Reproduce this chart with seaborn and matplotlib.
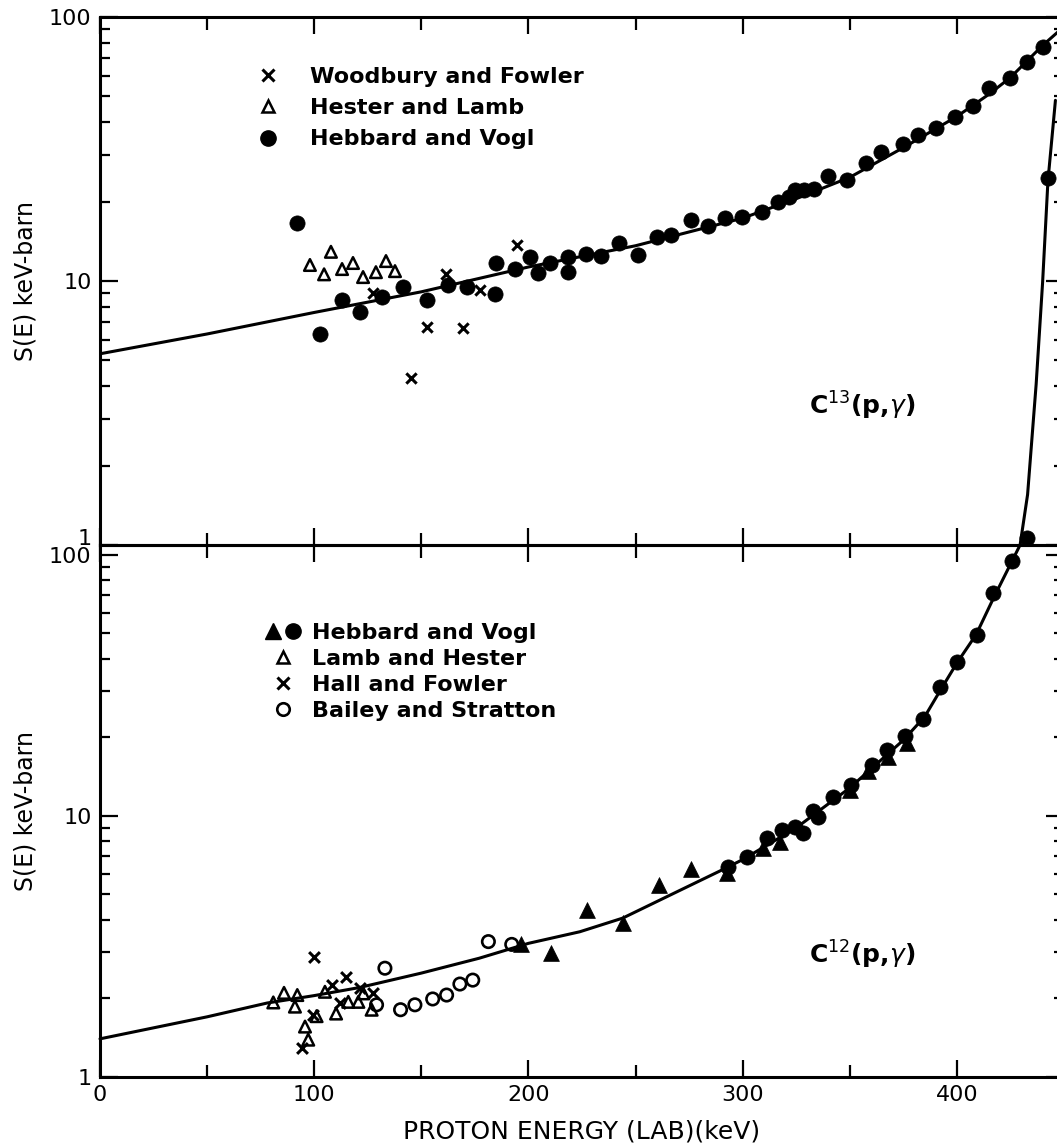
import matplotlib.pyplot as plt
import seaborn as sns
from matplotlib.lines import Line2D
from matplotlib.legend_handler import HandlerTuple
from matplotlib.ticker import MultipleLocator, LogLocator, NullFormatter

# ---------------- C13(p,gamma) data (top panel) ----------------
wf13_e = [127.4, 145.0, 152.6, 161.5, 169.5, 177.4, 194.6]
wf13_s = [9.0, 4.29, 6.7, 10.6, 6.64, 9.25, 13.7]

hl13_e = [98.0, 104.6, 107.8, 113.0, 118.1, 122.8, 128.8, 133.5, 137.7]
hl13_s = [11.5, 10.6, 12.9, 11.1, 11.7, 10.35, 10.8, 11.9, 10.9]

hv13_e = [92.0, 102.7, 113.0, 121.4, 131.6, 141.4, 152.6, 162.4, 171.3, 184.4,
          184.8, 193.7, 200.7, 204.4, 210.0, 218.6, 218.6, 227.1, 234.1, 242.3,
          251.3, 259.8, 266.7, 276.1, 283.9, 291.6, 299.7, 308.8, 316.5, 321.7,
          324.2, 328.5, 333.4, 339.7, 348.8, 357.8, 364.6, 374.9, 381.8, 390.4,
          399.0, 407.6, 415.2, 424.7, 432.5, 440.2]
hv13_s = [16.6, 6.3, 8.47, 7.63, 8.7, 9.5, 8.47, 9.66, 9.5, 8.93,
          11.7, 11.1, 12.3, 10.7, 11.7, 12.3, 10.8, 12.7, 12.4, 13.9,
          12.5, 14.7, 14.9, 17.0, 16.1, 17.3, 17.4, 18.2, 20.0, 20.8,
          22.1, 22.1, 22.4, 24.9, 24.1, 27.9, 30.9, 33.1, 35.7, 37.9,
          41.9, 46.2, 53.8, 58.5, 67.6, 77.1]

fit13_e = [0, 50, 100, 150, 200, 250, 300, 325, 350, 375, 400, 415, 425, 440, 450]
fit13_s = [5.3, 6.3, 7.6, 9.1, 11.3, 13.6, 17.3, 20.5, 24.7, 32.0, 42.0, 51.0, 59.0, 78.0, 92.0]

# ---------------- C12(p,gamma) data (bottom panel) ----------------
hv12_tri_e = [196.3, 210.5, 227.4, 244.3, 261.1, 276.1, 292.5, 309.6, 317.4,
              350.0, 358.6, 368.0, 376.5]
hv12_tri_s = [3.22, 2.99, 4.37, 3.9, 5.44, 6.24, 6.04, 7.52, 7.97,
              12.6, 14.8, 16.8, 19.0]

hv12_dot_e = [293.3, 301.8, 311.2, 318.2, 324.4, 328.3, 333.0, 335.3, 342.3,
              350.8, 360.2, 367.2, 375.7, 384.3, 392.1, 399.9, 409.2, 417.0,
              425.5, 432.7, 442.5]
hv12_dot_s = [6.36, 6.98, 8.2, 8.85, 9.1, 8.6, 10.4, 9.9, 11.8,
              13.1, 15.7, 17.9, 20.2, 23.6, 31.2, 39.0, 49.4, 71.4,
              94.3, 116.0, 2780.0]

lh12_e = [80.9, 85.9, 92.1, 91.0, 95.7, 97.2, 101.1, 105.0, 110.2, 115.9,
          120.6, 122.9, 126.8]
lh12_s = [1.93, 2.10, 2.06, 1.86, 1.56, 1.39, 1.71, 2.12, 1.75, 1.94,
          1.94, 2.09, 1.81]

hf12_e = [99.9, 94.1, 108.1, 114.8, 121.4, 127.6, 112.0, 99.6]
hf12_s = [2.89, 1.29, 2.25, 2.41, 2.19, 2.09, 1.92, 1.73]

bs12_e = [133.0, 129.1, 140.3, 147.0, 155.3, 161.8, 168.0, 174.0, 181.3, 192.2]
bs12_s = [2.61, 1.89, 1.81, 1.89, 1.99, 2.06, 2.27, 2.35, 3.30, 3.22]

fit12_e = [0, 50, 78, 100, 121, 150, 177, 200, 224, 244, 271, 289, 300, 325,
           350, 375, 385, 392, 400, 409, 417, 425, 429.5, 433, 437, 440, 442.5, 446]
fit12_s = [1.40, 1.70, 1.92, 2.05, 2.2, 2.5, 2.85, 3.25, 3.6, 4.06, 5.2, 6.13,
           6.8, 9.0, 12.8, 19.5, 24.0, 30.0, 38.5, 49.5, 68.0, 92.0, 109.0,
           170.0, 450.0, 1100.0, 2700.0, 5500.0]

ytick_vals = [1, 10, 100]
ytick_text = ['1', '10', '100']

sns.set_style('ticks')
plt.rcParams['font.family'] = ['DejaVu Sans']
plt.rcParams['text.color'] = 'black'
plt.rcParams['axes.labelcolor'] = 'black'
plt.rcParams['xtick.color'] = 'black'
plt.rcParams['ytick.color'] = 'black'

fig = plt.figure(figsize=(10.57, 11.43), dpi=100)
W, H = 1057, 1143
ax_top = fig.add_axes([100 / W, 1 - 545 / H, 964 / W, 528 / H])
ax_bot = fig.add_axes([100 / W, 1 - 1077 / H, 964 / W, 532 / H])

# top panel
sns.lineplot(x=fit13_e, y=fit13_s, ax=ax_top, color='k', lw=2.2, sort=False, estimator=None)
sns.scatterplot(x=wf13_e, y=wf13_s, ax=ax_top, marker='x', s=55, color='k', linewidth=2.2)
sns.scatterplot(x=hl13_e, y=hl13_s, ax=ax_top, marker='^', s=70, color='k',
                facecolor='none', edgecolor='k', linewidth=1.8)
sns.scatterplot(x=hv13_e, y=hv13_s, ax=ax_top, marker='o', s=120, color='k',
                edgecolor='k', linewidth=0.5)

# bottom panel (curve and points above the frame run on into the top panel)
sns.lineplot(x=fit12_e, y=fit12_s, ax=ax_bot, color='k', lw=2.2, sort=False,
             estimator=None, clip_on=False)
sns.scatterplot(x=lh12_e, y=lh12_s, ax=ax_bot, marker='^', s=70, color='k',
                facecolor='none', edgecolor='k', linewidth=1.8)
sns.scatterplot(x=hf12_e, y=hf12_s, ax=ax_bot, marker='x', s=60, color='k', linewidth=2.2)
sns.scatterplot(x=bs12_e, y=bs12_s, ax=ax_bot, marker='o', s=80, color='k',
                facecolor='none', edgecolor='k', linewidth=1.9)
sns.scatterplot(x=hv12_tri_e, y=hv12_tri_s, ax=ax_bot, marker='^', s=130, color='k',
                edgecolor='k', linewidth=0.5)
sns.scatterplot(x=hv12_dot_e, y=hv12_dot_s, ax=ax_bot, marker='o', s=120, color='k',
                edgecolor='k', linewidth=0.5, clip_on=False)

for ax, top in ((ax_top, 100), (ax_bot, 109)):
    ax.set_yscale('log')
    ax.set_xlim(0, 450)
    ax.set_ylim(1, top)
    ax.set_yticks(ytick_vals)
    ax.set_yticklabels(ytick_text)
    ax.yaxis.set_minor_locator(LogLocator(base=10, subs=range(2, 10)))
    ax.yaxis.set_minor_formatter(NullFormatter())
    ax.xaxis.set_major_locator(MultipleLocator(100))
    ax.xaxis.set_minor_locator(MultipleLocator(50))
    ax.tick_params(which='both', direction='in', top=True, right=True, width=1.6,
                   labelsize=16, pad=6, colors='k')
    ax.tick_params(axis='y', which='major', length=13)
    ax.tick_params(axis='y', which='minor', length=7)
    ax.tick_params(axis='x', which='major', length=12)
    ax.tick_params(axis='x', which='minor', length=9)
    for sp in ax.spines.values():
        sp.set_visible(True)
        sp.set_linewidth(2.2)
        sp.set_color('k')
    ax.set_ylabel('S(E) keV-barn', fontsize=17, labelpad=8, color='k')
    ax.set_facecolor('none')

ax_top.tick_params(axis='x', labelbottom=False)
ax_top.set_ylim(1, 100)
# lift the top panel's "1" a little so it sits above the lower "100"
ax_top.get_yticklabels()[0].set_va('baseline')
ax_bot.set_xlabel('PROTON ENERGY (LAB)(keV)', fontsize=18, labelpad=10, color='k')

ax_top.text(331, 3.35, r'C$^{13}$(p,$\gamma$)', fontsize=18, fontweight='bold',
            ha='left', va='center', color='k')
ax_bot.text(331, 2.93, r'C$^{12}$(p,$\gamma$)', fontsize=18, fontweight='bold',
            ha='left', va='center', color='k')

# legends
h_x = Line2D([], [], ls='none', marker='x', color='k', ms=8, mew=2.2)
h_otri = Line2D([], [], ls='none', marker='^', mfc='none', mec='k', ms=9, mew=1.8)
h_dot = Line2D([], [], ls='none', marker='o', color='k', ms=11)
h_ftri = Line2D([], [], ls='none', marker='^', color='k', ms=11)
h_ocirc = Line2D([], [], ls='none', marker='o', mfc='none', mec='k', ms=9, mew=1.9)

leg1 = ax_top.legend([h_x, h_otri, h_dot],
                     ['Woodbury and Fowler', 'Hester and Lamb', 'Hebbard and Vogl'],
                     loc='upper left', bbox_to_anchor=(0.163, 0.905), borderaxespad=0,
                     borderpad=0, frameon=False, handlelength=1.0, handletextpad=1.4,
                     labelspacing=0.5, prop={'size': 16, 'weight': 'bold'})
leg2 = ax_bot.legend([(h_ftri, h_dot), h_otri, h_x, h_ocirc],
                     ['Hebbard and Vogl', 'Lamb and Hester', 'Hall and Fowler',
                      'Bailey and Stratton'],
                     handler_map={tuple: HandlerTuple(ndivide=None, pad=0.2)},
                     loc='upper left', bbox_to_anchor=(0.171, 0.853), borderaxespad=0,
                     borderpad=0, frameon=False, handlelength=1.6, handletextpad=0.5,
                     labelspacing=0.26, prop={'size': 16, 'weight': 'bold'})
for leg in (leg1, leg2):
    for t in leg.get_texts():
        t.set_color('k')

fig.savefig('out.png', dpi=100)
